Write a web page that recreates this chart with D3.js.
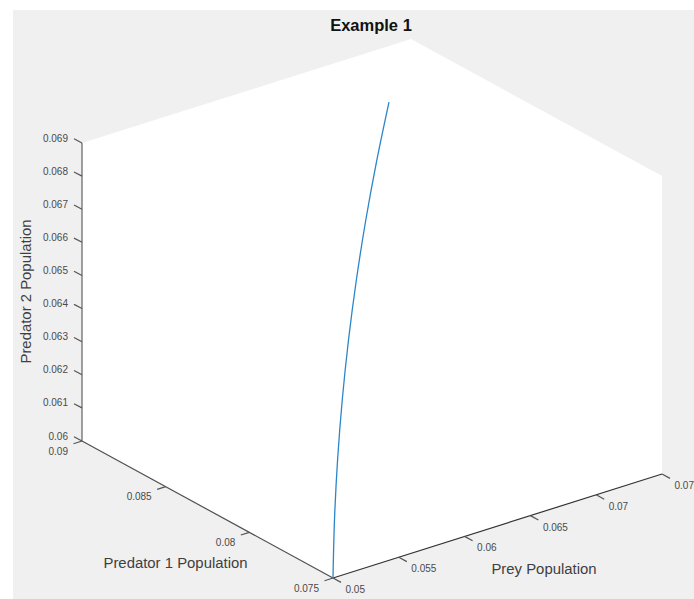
<!DOCTYPE html>
<html>
<head>
<meta charset="utf-8">
<script src="https://cdn.jsdelivr.net/npm/d3@7/dist/d3.min.js"></script>
<style>
html,body{margin:0;padding:0;background:#fff;overflow:hidden}
svg{display:block}
text{font-family:"Liberation Sans",Arial,sans-serif}
</style>
</head>
<body>
<svg id="chart" width="694" height="599"></svg>
<script>
const preyTicks = [0.05, 0.055, 0.06, 0.065, 0.07, 0.075];
const pred1Ticks = [0.075, 0.08, 0.085, 0.09];
const pred2Ticks = [0.06, 0.061, 0.062, 0.063, 0.064, 0.065, 0.066, 0.067, 0.068, 0.069];
const preyLabels = ["0.05", "0.055", "0.06", "0.065", "0.07", "0.075"];
const pred1Labels = ["0.075", "0.08", "0.085", "0.09"];
const pred2Labels = ["0.06", "0.061", "0.062", "0.063", "0.064", "0.065", "0.066", "0.067", "0.068", "0.069"];

const preyValues = [0.05, 0.052501, 0.05512, 0.057858, 0.060714, 0.06369, 0.066784, 0.069997, 0.073328];
const pred1Values = [0.075, 0.076875, 0.07875, 0.080625, 0.0825, 0.084375, 0.08625, 0.088125, 0.09];
const pred2Values = [0.06, 0.060966, 0.061916, 0.062852, 0.063773, 0.064679, 0.06557, 0.066446, 0.067307];

const titleText = "Example 1";
const preyTitle = "Prey Population";
const pred1Title = "Predator 1 Population";
const pred2Title = "Predator 2 Population";

const svg = d3.select("#chart");

// Oblique projection: each data axis contributes a screen-space offset from the front corner.
const origin = [333, 578];
const preyX = d3.scaleLinear().domain([0.05, 0.075]).range([0, 329]);
const preyY = d3.scaleLinear().domain([0.05, 0.075]).range([0, -104]);
const pred1X = d3.scaleLinear().domain([0.075, 0.09]).range([0, -251]);
const pred1Y = d3.scaleLinear().domain([0.075, 0.09]).range([0, -137]);
const pred2Y = d3.scaleLinear().domain([0.06, 0.069]).range([0, -298]);

const project = (prey, p1, p2) => [
  origin[0] + preyX(prey) + pred1X(p1),
  origin[1] + preyY(prey) + pred1Y(p1) + pred2Y(p2)
];

const PL = 0.05, PH = 0.075, AL = 0.075, AH = 0.09, ZL = 0.06, ZH = 0.069;

// figure background
svg.append("rect").attr("x", 13).attr("y", 10).attr("width", 681).attr("height", 589).attr("fill", "#f0f0f0");

// axes box (white silhouette)
const hull = [
  project(PL, AH, ZH), project(PH, AH, ZH), project(PH, AL, ZH),
  project(PH, AL, ZL), project(PL, AL, ZL), project(PL, AH, ZL)
];
svg.append("polygon").attr("points", hull.map(d => d.join(",")).join(" ")).attr("fill", "#fff");

const segLine = (a, b, stroke, w) => svg.append("line")
  .attr("x1", a[0]).attr("y1", a[1]).attr("x2", b[0]).attr("y2", b[1])
  .attr("stroke", stroke).attr("stroke-width", w);

const tickText = (x, y, s, anchor) => svg.append("text")
  .attr("x", x).attr("y", y).attr("text-anchor", anchor).attr("dominant-baseline", "central")
  .attr("font-size", 10).attr("fill", "#4a4a4a").text(s);

// Prey axis
segLine(project(PL, AL, ZL), project(PH, AL, ZL), "#333", 1.2);
preyTicks.forEach((t, i) => {
  const p = project(t, AL, ZL);
  segLine(p, [p[0] + 8, p[1] + 4.4], "#555", 1.2);
  tickText(p[0] + 12.5, p[1] + 11.5, preyLabels[i], "start");
});

// Predator 1 axis
segLine(project(PL, AL, ZL), project(PL, AH, ZL), "#505050", 1.2);
pred1Ticks.forEach((t, i) => {
  const p = project(PL, t, ZL);
  segLine(p, [p[0] - 8.5, p[1] + 2.7], "#555", 1.2);
  tickText(p[0] - 14, p[1] + 10, pred1Labels[i], "end");
});

// Predator 2 axis
segLine(project(PL, AH, ZL), project(PL, AH, ZH), "#777", 1.4);
pred2Ticks.forEach((t, i) => {
  const p = project(PL, AH, t);
  segLine(p, [p[0] - 8, p[1] - 4.2], "#555", 1.2);
  tickText(p[0] - 14, p[1] - 5, pred2Labels[i], "end");
});

// Trajectory
const line = d3.line().curve(d3.curveCatmullRom);
svg.append("path")
  .attr("d", line(preyValues.map((v, i) => project(v, pred1Values[i], pred2Values[i]))))
  .attr("fill", "none").attr("stroke", "#2a86c8").attr("stroke-width", 1.3);

// Titles
const label = (x, y, s) => svg.append("text")
  .attr("x", x).attr("y", y).attr("text-anchor", "middle").attr("dominant-baseline", "central")
  .attr("font-size", 14.9).attr("fill", "#3f3f3f").text(s);

label(175.5, 562.5, pred1Title);
label(544, 569, preyTitle);
label(0, 0, pred2Title).attr("transform", "translate(26,291.5) rotate(-90)");

svg.append("text").attr("x", 371).attr("y", 24.5).attr("text-anchor", "middle")
  .attr("dominant-baseline", "central").attr("font-size", 16.5).attr("font-weight", "bold")
  .attr("fill", "#111").text(titleText);
</script>
</body>
</html>
